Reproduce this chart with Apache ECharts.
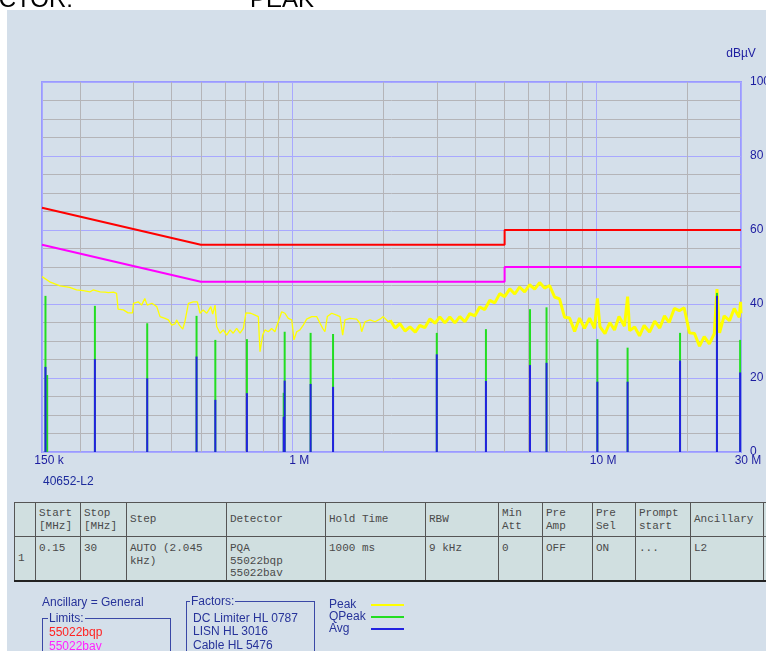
<!DOCTYPE html>
<html>
<head>
<meta charset="utf-8">
<script src="https://cdn.jsdelivr.net/npm/echarts@6/dist/echarts.min.js"></script>
<style>
  html, body { margin: 0; padding: 0; width: 766px; height: 651px; overflow: hidden; background: #fff; font-family: Arial, "Liberation Sans", sans-serif; }
  #panel { position: absolute; left: 7px; top: 10px; width: 759px; height: 641px; background: #d4dfea; }
  #chart { position: absolute; left: 0; top: 0; width: 766px; height: 651px; }
  .head { position: absolute; top: -15px; font-size: 24px; line-height: 28px; color: #000; white-space: nowrap; }
  #scanId { position: absolute; left: 43px; top: 474px; font-size: 12px; color: #1c2a9c; }
  #tbl { position: absolute; left: 14px; top: 502px; width: 789px; border-collapse: collapse; table-layout: fixed; background: #d0dfe0;
         font-family: "Liberation Mono", "Courier New", monospace; font-size: 11px; line-height: 12.5px; color: #4a4a4a;
         border-top: 1px solid #333; border-bottom: 2px solid #222; }
  #tbl td { border: 1px solid #555; padding: 0 0 0 3px; overflow: hidden; white-space: nowrap; }
  #tbl tr.hd td { height: 33px; vertical-align: middle; }
  #tbl tr.dt td { height: 44px; vertical-align: top; padding-top: 5px; box-sizing: border-box; }
  #tbl tr.dt td.num { vertical-align: middle; padding-top: 0; }
  .txt { position: absolute; font-size: 12px; line-height: 14px; color: #27339a; white-space: nowrap; }
  .box { position: absolute; border: 1px solid #3a48a6; box-sizing: border-box; }
  .cap { position: absolute; top: -8px; background: #d4dfea; padding: 0 1px; }
</style>
</head>
<body>
<div id="panel"></div>
<div id="chart"></div>
<div class="head" style="left:-80px;width:153px;text-align:right;">DETECTOR:</div>
<div class="head" style="left:250px;">PEAK</div>
<div id="scanId">40652-L2</div>

<table id="tbl">
  <colgroup>
    <col style="width:21px"><col style="width:45px"><col style="width:46px"><col style="width:100px">
    <col style="width:99px"><col style="width:100px"><col style="width:73px"><col style="width:44px">
    <col style="width:50px"><col style="width:43px"><col style="width:55px"><col style="width:73px"><col style="width:40px">
  </colgroup>
  <tr class="hd">
    <td></td><td>Start<br>[MHz]</td><td>Stop<br>[MHz]</td><td>Step</td><td>Detector</td><td>Hold Time</td>
    <td>RBW</td><td>Min<br>Att</td><td>Pre<br>Amp</td><td>Pre<br>Sel</td><td>Prompt<br>start</td><td>Ancillary</td><td></td>
  </tr>
  <tr class="dt">
    <td class="num">1</td><td>0.15</td><td>30</td><td>AUTO (2.045<br>kHz)</td><td>PQA<br>55022bqp<br>55022bav</td><td>1000 ms</td>
    <td>9 kHz</td><td>0</td><td>OFF</td><td>ON</td><td>...</td><td>L2</td><td></td>
  </tr>
</table>

<div class="txt" style="left:42px;top:595px;">Ancillary = General</div>
<div class="box txt" style="left:42px;top:618px;width:129px;height:50px;">
  <span class="cap" style="left:5px;">Limits:</span>
  <div style="position:absolute;left:6px;top:6px;color:#ff2222;">55022bqp</div>
  <div style="position:absolute;left:6px;top:20px;color:#ff22ff;">55022bav</div>
</div>
<div class="box txt" style="left:186px;top:601px;width:129px;height:60px;">
  <span class="cap" style="left:3px;">Factors:</span>
  <div style="position:absolute;left:6px;top:9px;">DC Limiter HL 0787</div>
  <div style="position:absolute;left:6px;top:22px;">LISN HL 3016</div>
  <div style="position:absolute;left:6px;top:36px;">Cable HL 5476</div>
</div>

<script>
// limit lines (MHz / dBµV)
const limitFreq = [0.15, 0.5, 5, 5, 30];
const qpLimit = [66, 56, 56, 60, 60];
const avLimit = [56, 46, 46, 50, 50];

// peak scan, low band (thin trace)
const peakLowFreq = [0.150,0.159,0.172,0.185,0.195,0.205,0.216,0.221,0.233,0.242,
  0.248,0.258,0.264,0.267,0.278,0.288,0.298,0.300,0.311,0.319,
  0.327,0.333,0.345,0.358,0.367,0.381,0.391,0.401,0.411,0.416,
  0.425,0.436,0.443,0.455,0.472,0.487,0.497,0.509,0.523,0.539,
  0.547,0.557,0.564,0.578,0.593,0.608,0.624,0.639,0.656,0.673,
  0.690,0.704,0.730,0.754,0.773,0.783,0.799,0.813,0.834,0.855,
  0.877,0.899,0.923,0.946,0.970,0.996,1.013,1.034,1.060,1.087,
  1.115,1.159,1.203,1.234,1.259,1.281,1.304,1.348,1.400,1.436,
  1.465,1.491,1.548,1.629,1.671,1.692,1.735,1.802,1.872,1.944,
  1.993,2.070,2.100];
const peakLowLevel = [47.4,46.0,44.9,44.5,43.8,43.6,43.3,43.8,43.3,43.2,
  43.1,43.2,42.9,38.6,38.4,37.6,37.6,40.2,40.6,39.7,
  41.5,39.7,40.2,39.3,36.6,36.1,35.7,34.3,34.6,35.7,
  34.3,33.2,35.2,40.2,40.6,40.6,37.5,38.4,37.5,39.3,
  37.3,39.7,33.9,32.1,33.0,31.6,33.0,32.1,33.4,32.1,
  33.4,37.6,37.5,37.0,36.6,27.1,31.6,33.0,32.5,33.4,
  32.5,35.2,37.9,37.5,36.1,35.7,30.3,32.5,33.0,34.3,
  35.9,36.6,36.6,34.8,33.4,32.5,36.6,37.5,37.0,36.6,
  31.6,35.7,36.1,35.9,34.8,32.5,35.2,35.7,35.2,35.9,
  36.6,35.2,35.6];

// peak scan, high band (noisy trace)
const peakHighFreq = [2.10,2.18,2.26,2.35,2.44,2.54,2.63,2.73,2.84,2.95,
  3.06,3.18,3.30,3.43,3.56,3.70,3.84,3.99,4.14,4.30,
  4.47,4.64,4.82,5.00,5.20,5.40,5.60,5.82,6.04,6.28,
  6.52,6.77,7.03,7.30,7.58,7.88,8.18,8.50,8.82,9.16,
  9.52,9.88,10.1,10.3,10.7,11.1,11.5,11.9,12.4,12.7,
  12.9,13.4,13.9,14.4,15.0,15.6,16.2,16.8,17.4,18.1,
  18.8,19.5,20.3,21.1,21.9,22.7,23.6,24.5,25.0,25.5,
  26.4,27.5,28.5,29.6,29.9,30.0];
const peakHighLevel = [35.6,33.5,34.7,32.7,33.8,32.4,34.2,33.6,36.0,34.8,
  36.5,34.9,36.5,34.9,36.6,35.2,37.4,36.8,39.2,38.5,
  41.0,40.3,42.8,42.0,44.1,42.7,44.6,43.3,45.2,44.0,
  45.8,44.3,45.0,41.9,41.4,36.4,36.2,32.6,36.2,33.4,
  36.2,33.4,41.5,33.9,32.0,35.0,33.0,36.6,34.0,42.0,
  32.8,33.8,31.4,34.2,32.4,35.4,33.5,36.8,35.0,38.8,
  38.2,39.0,32.2,32.0,28.6,31.2,29.2,32.0,44.0,32.2,
  36.8,35.5,38.8,36.4,40.6,37.5];

// final measurements
const spotFreq = [0.154,0.156,0.224,0.333,0.484,0.558,0.709,0.944,0.937,1.149,
  1.362,2.99,4.34,6.06,6.87,10.1,12.7,18.9,25.0,29.8];
const qpLevel = [42.2,20.8,39.5,34.8,36.8,30.3,30.5,32.5,16.0,32.2,
  31.9,32.2,33.2,38.6,39.1,30.5,28.2,32.2,43.0,30.3];
const avLevel = [23.0,0,25.1,19.9,25.8,14.1,15.9,19.3,9.5,18.4,
  17.6,26.4,19.2,23.5,24.1,19.0,19.0,24.7,42.2,21.5];

// minor vertical grid
const minorGridFreq = [0.2,0.3,0.4,0.5,0.6,0.7,0.8,0.9,2,3,4,5,6,7,8,9,20];

const labelBlue = '#1c1ca0';
const minorGray = '#b4b4b8';
const pairs = (xs, ys) => xs.map((x, i) => [x, ys[i]]);

function stemSeries(name, freqs, levels, color, z) {
  return {
    name: name,
    type: 'custom',
    z: z,
    itemStyle: { color: color },
    data: pairs(freqs, levels),
    encode: { x: 0, y: 1 },
    renderItem: function (params, api) {
      const top = api.coord([api.value(0), api.value(1)]);
      const base = api.coord([api.value(0), 0]);
      return {
        type: 'line',
        shape: { x1: top[0], y1: top[1], x2: base[0], y2: base[1] },
        style: { stroke: color, lineWidth: 2 }
      };
    }
  };
}

const chart = echarts.init(document.getElementById('chart'));

chart.setOption({
  animation: false,
  backgroundColor: 'transparent',
  grid: {
    left: 42, right: 25, top: 82, bottom: 199,
    show: true, borderColor: '#9a9aff', borderWidth: 2, backgroundColor: 'transparent',
    outerBoundsMode: 'none'
  },
  legend: {
    left: 324, top: 594, orient: 'vertical', align: 'right',
    itemWidth: 33, itemHeight: 2, itemGap: 0, selectedMode: false,
    formatter: '{n|{name}}',
    textStyle: {
      rich: { n: { width: 37, align: 'left', lineHeight: 14, fontSize: 12, fontFamily: 'Arial', color: '#27339a' } }
    },
    data: [
      { name: 'Peak', icon: 'rect' },
      { name: 'QPeak', icon: 'rect' },
      { name: 'Avg', icon: 'rect' }
    ]
  },
  xAxis: {
    type: 'log', logBase: 10, min: 0.15, max: 30,
    axisLine: { show: false }, axisTick: { show: false },
    splitLine: { show: true, lineStyle: { color: '#a8a8ff', width: 1 } },
    axisLabel: {
      interval: 0, margin: 3, color: labelBlue, fontSize: 12, fontFamily: 'Arial',
      formatter: function (v) {
        const t = v < 0.9 ? Math.round(v * 1000) + ' k' : Math.round(v) + ' M';
        return '{s|}' + t;
      },
      rich: { s: { width: 14 } }
    }
  },
  yAxis: {
    type: 'value', position: 'right', min: 0, max: 100, interval: 20,
    name: 'dBµV', nameLocation: 'end', nameGap: 22,
    nameTextStyle: { color: labelBlue, fontSize: 12, fontFamily: 'Arial' },
    axisLine: { show: false }, axisTick: { show: false },
    splitLine: { show: true, lineStyle: { color: '#a8a8ff', width: 1 } },
    minorTick: { show: false, splitNumber: 4 },
    minorSplitLine: { show: true, lineStyle: { color: minorGray, width: 1 } },
    axisLabel: { margin: 9, color: labelBlue, fontSize: 12, fontFamily: 'Arial', padding: [0, 0, 5, 0] }
  },
  series: [
    {
      name: 'grid', type: 'line', data: [], silent: true,
      markLine: {
        silent: true, symbol: 'none', z: 1, animation: false,
        label: { show: false },
        lineStyle: { color: minorGray, type: 'solid', width: 1 },
        data: minorGridFreq.map(f => ({ xAxis: f }))
      }
    },
    {
      name: '55022bqp', type: 'line', showSymbol: false, z: 3,
      lineStyle: { color: '#ff0000', width: 2 },
      data: pairs(limitFreq, qpLimit)
    },
    {
      name: '55022bav', type: 'line', showSymbol: false, z: 3,
      lineStyle: { color: '#ff00ff', width: 2 },
      data: pairs(limitFreq, avLimit)
    },
    {
      name: 'Peak', type: 'line', showSymbol: false, z: 2,
      itemStyle: { color: '#ffff00' },
      lineStyle: { color: '#ffff00', width: 1.3 },
      data: pairs(peakLowFreq, peakLowLevel)
    },
    {
      name: 'Peak', type: 'line', showSymbol: false, z: 2,
      itemStyle: { color: '#ffff00' },
      lineStyle: { color: '#ffff00', width: 3 },
      data: pairs(peakHighFreq, peakHighLevel)
    },
    stemSeries('QPeak', spotFreq, qpLevel, '#22dd22', 4),
    stemSeries('Avg', spotFreq, avLevel, '#2222e0', 5)
  ]
});
</script>
</body>
</html>
